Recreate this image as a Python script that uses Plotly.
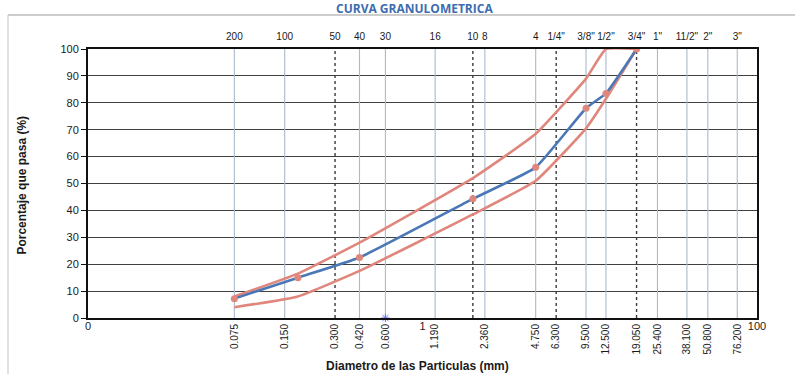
import plotly.graph_objects as go

# Sieve openings (mm) with the passing percentages of the sample and the spec band
sizes_mm = [0.075, 0.180, 0.420, 2.000, 4.750, 9.500, 12.500, 19.050]
muestra = [7.2, 15.0, 22.5, 44.3, 56.0, 78.0, 83.5, 100.0]
lim_inf = [4.0, 8.0, 17.5, 38.5, 51.0, 70.5, 81.5, 100.0]
lim_sup = [8.0, 16.5, 28.0, 52.0, 68.5, 89.0, 100.0, 100.0]

# Reference grid of sieves (bottom labels in mm, top labels as sieve designation)
grid_mm = [0.075, 0.150, 0.300, 0.420, 0.600, 1.190, 2.000, 2.360, 4.750, 6.300,
           9.500, 12.500, 19.050, 25.400, 38.100, 50.800, 76.200]
grid_dashed = [False, False, True, False, False, False, True, False, False, True,
               False, False, True, False, False, False, False]
bottom_mm = [0.075, 0.150, 0.300, 0.420, 0.600, 1.190, 2.360, 4.750, 6.300,
             9.500, 12.500, 19.050, 25.400, 38.100, 50.800, 76.200]
bottom_text = ["0.075", "0.150", "0.300", "0.420", "0.600", "1.190", "2.360", "4.750",
               "6.300", "9.500", "12.500", "19.050", "25.400", "38.100", "50.800", "76.200"]
top_text = ["200", "100", "50", "40", "30", "16", "10", "8", "4", '1/4"', '3/8"',
            '1/2"', '3/4"', '1"', '11/2"', '2"', '3"']
decade_vals = [0.01, 1, 100]
decade_text = ["0", "1", "100"]

FONT = "Liberation Sans"
BLUE = "#4a78b6"
PINK = "#e0877d"

fig = go.Figure()

# vertical sieve lines
for xv, dashed in zip(grid_mm, grid_dashed):
    fig.add_trace(go.Scatter(
        x=[xv, xv], y=[0, 100], mode="lines", hoverinfo="skip", showlegend=False,
        line=dict(color="#3a3a3a" if dashed else "#a9bacd",
                  width=1.4 if dashed else 1.1,
                  dash="dot" if dashed else "solid")))

# spec limits
fig.add_trace(go.Scatter(x=sizes_mm, y=lim_sup, mode="lines", showlegend=False,
                         line=dict(color=PINK, width=2.6, shape="spline", smoothing=0.4)))
fig.add_trace(go.Scatter(x=sizes_mm, y=lim_inf, mode="lines", showlegend=False,
                         line=dict(color=PINK, width=2.6, shape="spline", smoothing=0.4)))
# sample curve
fig.add_trace(go.Scatter(x=sizes_mm, y=muestra, mode="lines+markers", showlegend=False,
                         line=dict(color=BLUE, width=2.6, shape="spline", smoothing=0.4),
                         marker=dict(color=PINK, size=7, symbol="circle")))
# small mark on the axis at 0.600 mm
fig.add_trace(go.Scatter(x=[0.6], y=[0], mode="markers", showlegend=False, cliponaxis=False,
                         marker=dict(symbol="asterisk-open", size=7,
                                     line=dict(color="#6f8fc4", width=1))))

# carriers for the extra x axes
fig.add_trace(go.Scatter(x=[0.01, 100], y=[0, 0], xaxis="x2", mode="markers",
                         marker=dict(opacity=0), hoverinfo="skip", showlegend=False))
fig.add_trace(go.Scatter(x=[0.01, 100], y=[0, 0], xaxis="x3", mode="markers",
                         marker=dict(opacity=0), hoverinfo="skip", showlegend=False))

fig.update_layout(
    width=795, height=374,
    margin=dict(l=88, r=38, t=49, b=56),
    paper_bgcolor="white", plot_bgcolor="white",
    font=dict(family=FONT, color="#1a1a1a"),
    xaxis=dict(type="log", range=[-2, 2], showgrid=False, zeroline=False,
               tickmode="array", tickvals=bottom_mm, ticktext=bottom_text,
               tickangle=-90, tickfont=dict(size=10, family=FONT),
               ticks="", showline=True, linecolor="#111", linewidth=2, mirror=True),
    xaxis2=dict(type="log", range=[-2, 2], overlaying="x", side="bottom", anchor="y",
                showgrid=False, zeroline=False, showline=False,
                tickmode="array", tickvals=decade_vals, ticktext=decade_text,
                tickangle=0, tickfont=dict(size=11, family=FONT), ticks=""),
    xaxis3=dict(type="log", range=[-2, 2], overlaying="x", side="top", anchor="y",
                showgrid=False, zeroline=False, showline=False,
                tickmode="array", tickvals=grid_mm, ticktext=top_text,
                tickangle=0, tickfont=dict(size=10, family=FONT), ticks="",
                ticklabelstandoff=6),
    yaxis=dict(range=[0, 100], dtick=10, showgrid=True, gridcolor="#404040", gridwidth=1,
               zeroline=False, showline=True, linecolor="#111", linewidth=2, mirror=True,
               ticks="outside", ticklen=5, tickcolor="#111",
               tickfont=dict(size=11, family=FONT)),
    shapes=[
        dict(type="line", xref="paper", yref="paper", x0=-0.1196, x1=1.06,
             y0=1.1264, y1=1.1264, line=dict(color="#9a9a9a", width=1)),
        dict(type="line", xref="paper", yref="paper", x0=-0.1196, x1=-0.1196,
             y0=1.1264, y1=-0.22, line=dict(color="#c4c4c4", width=1)),
    ],
    annotations=[
        dict(text="<b>CURVA GRANULOMETRICA</b>", xref="paper", yref="paper",
             x=0.488, y=1.152, xanchor="center", yanchor="middle", showarrow=False,
             font=dict(size=12, color="#3d6cb0", family="Open Sans")),
        dict(text="<b>Porcentaje que pasa (%)</b>", xref="paper", yref="paper",
             x=-0.099, y=0.495, xanchor="center", yanchor="middle", textangle=-90,
             showarrow=False, font=dict(size=12, family=FONT, color="#1a1a1a")),
        dict(text="<b>Diametro de las Particulas (mm)</b>", xref="paper", yref="paper",
             x=0.493, y=-0.178, xanchor="center", yanchor="middle", showarrow=False,
             font=dict(size=12, family=FONT, color="#1a1a1a")),
    ],
)

fig.write_html("out.html")
